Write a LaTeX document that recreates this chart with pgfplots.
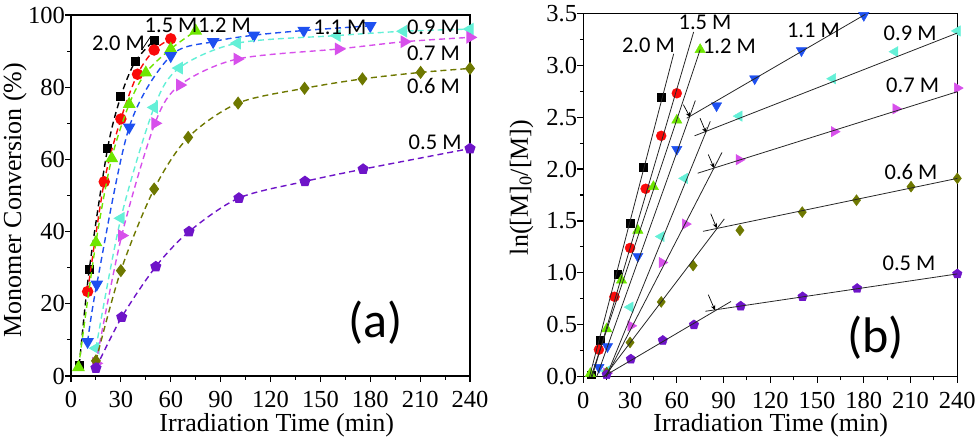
\documentclass[border=0pt]{standalone}
\usepackage{fontspec}
\setmainfont{Liberation Serif}
\newfontfamily\calib{Carlito}
\usepackage{pgfplots}
\pgfplotsset{compat=1.18}
\usetikzlibrary{arrows.meta}
\definecolor{cred}{RGB}{250,10,10}
\definecolor{cgreen}{RGB}{110,230,0}
\definecolor{cblue}{RGB}{30,80,240}
\definecolor{ccyan}{RGB}{100,240,215}
\definecolor{cmag}{RGB}{215,80,235}
\definecolor{colive}{RGB}{110,120,0}
\definecolor{cpurp}{RGB}{110,20,200}
\tikzset{
  lab/.style={font=\calib\fontsize{22.5}{22.5}\selectfont, inner sep=0pt, anchor=center},
  fit/.style={black!85, line width=0.8pt},
  arr/.style={black, line width=0.7pt, -{Stealth[length=5pt,width=4.5pt]}},
}
\pgfplotsset{
  myaxis/.style={
    scale only axis, anchor=south west,
    xmin=0, xmax=240, xtick={0,30,...,240}, minor x tick num=1,
    tick align=outside, xtick pos=left, ytick pos=left,
    major tick length=6pt, minor tick length=3.5pt,
    tick style={line width=1.1pt, black},
    axis line style={line width=1.3pt},
    tick label style={font=\fontsize{24.5}{24.5}\selectfont, inner sep=0pt},
    xticklabel style={yshift=-9pt},
    /pgf/number format/assume math mode=true,
    label style={font=\fontsize{26}{26}\selectfont, inner sep=0pt},
    clip mode=individual,
  },
  ser/.style={line width=1.4pt, dash pattern=on 6pt off 4pt, smooth},
}
\begin{document}
\begin{tikzpicture}
\path[use as bounding box] (0,0) rectangle (979pt,442pt);
% ---------------- (a)
\begin{axis}[myaxis, at={(71pt,66pt)}, width=399pt, height=361pt,
  ymin=0, ymax=100, ytick={0,20,...,100}, minor y tick num=1,
  xlabel={Irradiation Time (min)},
  xlabel style={at={(axis description cs:0.5155,-0.155)}, anchor=base},
  ylabel={Monomer Conversion (\%)},
  ylabel style={at={(axis description cs:-0.1404,0.4875)}, anchor=center},
]
\addplot[ser, black, mark=square*, mark size=3.8pt, mark options={solid, fill=black}]
  coordinates {(5,3) (11,29.5) (22,63) (30,77.5) (38.5,87) (50,93)};
\addplot[ser, cred, mark=*, mark size=5pt, mark options={solid, fill=cred}]
  coordinates {(10,23.4) (20,53.8) (30,71.2) (40,83.6) (50,90.3) (60,93.4)};
\addplot[ser, cgreen, mark=triangle*, mark size=6pt, mark options={solid, fill=cgreen}]
  coordinates {(4.5,2.4) (15,37) (24.5,60.3) (35,75.3) (45,84) (60,90.6) (75,95.6)};
\addplot[ser, cblue, mark=triangle*, mark size=6pt, mark options={solid, fill=cblue, rotate=180}]
  coordinates {(10,9.5) (15.5,25.4) (35,68.9) (60,88.7) (85.5,92.6) (110,94.4) (140,95.7) (180,97)};
\addplot[ser, ccyan, mark=triangle*, mark size=6pt, mark options={solid, fill=ccyan, rotate=90}]
  coordinates {(15,7.7) (30,43.7) (50,74.4) (65,85.3) (100,92.2) (160,94.3) (200,95.5) (240,96.1)};
\addplot[ser, cmag, mark=triangle*, mark size=6pt, mark options={solid, fill=cmag, rotate=-90}]
  coordinates {(15,3.5) (30.5,38.9) (50.5,70) (65.5,80.6) (100,87.8) (161,90.6) (200.5,92.6) (240,93.8)};
\addplot[ser, colive, mark=diamond*, mark size=5.5pt, mark options={solid, fill=colive}]
  coordinates {(15,4.2) (30,29.2) (50,51.8) (70.5,66.1) (100.5,75.6) (140.5,79.7) (175.3,82.3) (210.3,84.1) (240,85.2)};
\addplot[ser, cpurp, mark=pentagon*, mark size=5pt, mark options={solid, fill=cpurp}]
  coordinates {(15,2.2) (30.5,16.3) (51,30.3) (71,40) (101,49.3) (140.7,53.9) (175.7,57.3) (240,63)};
\addplot[black, line width=0.8pt, mark=none] coordinates {(42.5,90.3) (47.7,93.9)};
\node[lab] at (axis cs:28.6,92.2) {2.0 M};
\node[lab] at (axis cs:60.2,97.2) {1.5 M};
\node[lab] at (axis cs:92.3,97.2) {1.2 M};
\node[lab] at (axis cs:161.8,96.7) {1.1 M};
\node[lab] at (axis cs:218,96.7) {0.9 M};
\node[lab] at (axis cs:218,89.5) {0.7 M};
\node[lab] at (axis cs:218,80.3) {0.6 M};
\node[lab] at (axis cs:219,64.8) {0.5 M};
\node[font=\calib\fontsize{50}{50}\selectfont, inner sep=0pt] at (axis cs:183.2,14.8) {(a)};
\end{axis}
% ---------------- (b)
\begin{axis}[myaxis, at={(583.3pt,65.3pt)}, width=374pt, height=363.4pt,
  ymin=0, ymax=3.5, ytick={0,0.5,...,3.5}, minor y tick num=1,
  yticklabel style={/pgf/number format/.cd, fixed, fixed zerofill, precision=1},
  xlabel={Irradiation Time (min)},
  xlabel style={at={(axis description cs:0.501,-0.152)}, anchor=base},
  ylabel={ln([M]\textsubscript{0}/[M])},
  ylabel style={at={(axis description cs:-0.1647,0.5206)}, anchor=center},
]
\addplot[only marks, black, mark=square*, mark size=3.8pt, mark options={fill=black}]
  coordinates {(5,0.02) (11,0.35) (22,0.99) (30,1.48) (38.5,2.02) (50,2.69)};
\addplot[only marks, cred, mark=*, mark size=5pt, mark options={fill=cred}]
  coordinates {(10,0.26) (20,0.77) (30,1.24) (40,1.81) (50,2.32) (60,2.73)};
\addplot[only marks, cgreen, mark=triangle*, mark size=6pt, mark options={fill=cgreen}]
  coordinates {(4.5,0.03) (15,0.46) (24.5,0.93) (35,1.41) (45,1.83) (60,2.47) (75,3.15)};
\addplot[only marks, cblue, mark=triangle*, mark size=6pt, mark options={fill=cblue, rotate=180}]
  coordinates {(10,0.09) (15.5,0.29) (35,1.16) (60,2.19) (85.5,2.61) (110,2.87) (140,3.14) (180,3.48)};
\addplot[only marks, ccyan, mark=triangle*, mark size=6pt, mark options={fill=ccyan, rotate=90}]
  coordinates {(15,0.055) (30,0.67) (50,1.35) (65,1.91) (100,2.51) (160,2.87) (200,3.13) (240,3.33)};
\addplot[only marks, cmag, mark=triangle*, mark size=6pt, mark options={fill=cmag, rotate=-90}]
  coordinates {(15,0.035) (30.5,0.49) (50.5,1.10) (65.5,1.47) (100,2.09) (161,2.36) (200.5,2.58) (240,2.78)};
\addplot[only marks, colive, mark=diamond*, mark size=5.5pt, mark options={fill=colive}]
  coordinates {(15,0.04) (30,0.33) (50,0.72) (70.5,1.07) (100.5,1.41) (140.5,1.585) (175.3,1.70) (210.3,1.83) (240,1.91)};
\addplot[only marks, cpurp, mark=pentagon*, mark size=5pt, mark options={fill=cpurp}]
  coordinates {(15,0.02) (30.5,0.17) (51,0.35) (71,0.50) (101,0.68) (140.7,0.77) (175.7,0.85) (240,0.99)};
% fitted lines
\addplot[fit, mark=none] coordinates {(4,0) (58,3.11)};
\addplot[fit, mark=none] coordinates {(5.7,0) (70.8,3.32)};
\addplot[fit, mark=none] coordinates {(5,0) (75,3.15)};
\addplot[fit, mark=none] coordinates {(8.6,0) (71.9,2.66)};
\addplot[fit, mark=none] coordinates {(66.4,2.49) (181,3.49)};
\addplot[fit, mark=none] coordinates {(14.7,0) (81.5,2.46)};
\addplot[fit, mark=none] coordinates {(71.4,2.32) (240,3.31)};
\addplot[fit, mark=none] coordinates {(14.7,0) (89,2.16)};
\addplot[fit, mark=none] coordinates {(73.4,1.96) (240,2.745)};
\addplot[fit, mark=none] coordinates {(13.5,0) (90.5,1.52)};
\addplot[fit, mark=none] coordinates {(76.8,1.40) (240,1.91)};
\addplot[fit, mark=none] coordinates {(12.8,0) (94.8,0.725)};
\addplot[fit, mark=none] coordinates {(78.3,0.63) (240,0.99)};
% arrows
\addplot[arr, mark=none] coordinates {(64.2,2.62) (68.5,2.50)};
\addplot[arr, mark=none] coordinates {(74.9,2.49) (78.8,2.35)};
\addplot[arr, mark=none] coordinates {(80.2,2.14) (83.9,2.01)};
\addplot[arr, mark=none] coordinates {(81.8,1.57) (85.6,1.43)};
\addplot[arr, mark=none] coordinates {(80.2,0.79) (84.5,0.64)};
\node[lab] at (axis cs:41.8,3.196) {2.0 M};
\node[lab] at (axis cs:78.1,3.41) {1.5 M};
\node[lab] at (axis cs:93.8,3.18) {1.2 M};
\node[lab] at (axis cs:147.7,3.34) {1.1 M};
\node[lab] at (axis cs:209.7,3.31) {0.9 M};
\node[lab] at (axis cs:211.3,2.81) {0.7 M};
\node[lab] at (axis cs:210.3,1.97) {0.6 M};
\node[lab] at (axis cs:209,1.095) {0.5 M};
\node[font=\calib\fontsize{50}{50}\selectfont, inner sep=0pt] at (axis cs:187.7,0.373) {(b)};
\end{axis}
\end{tikzpicture}
\end{document}
